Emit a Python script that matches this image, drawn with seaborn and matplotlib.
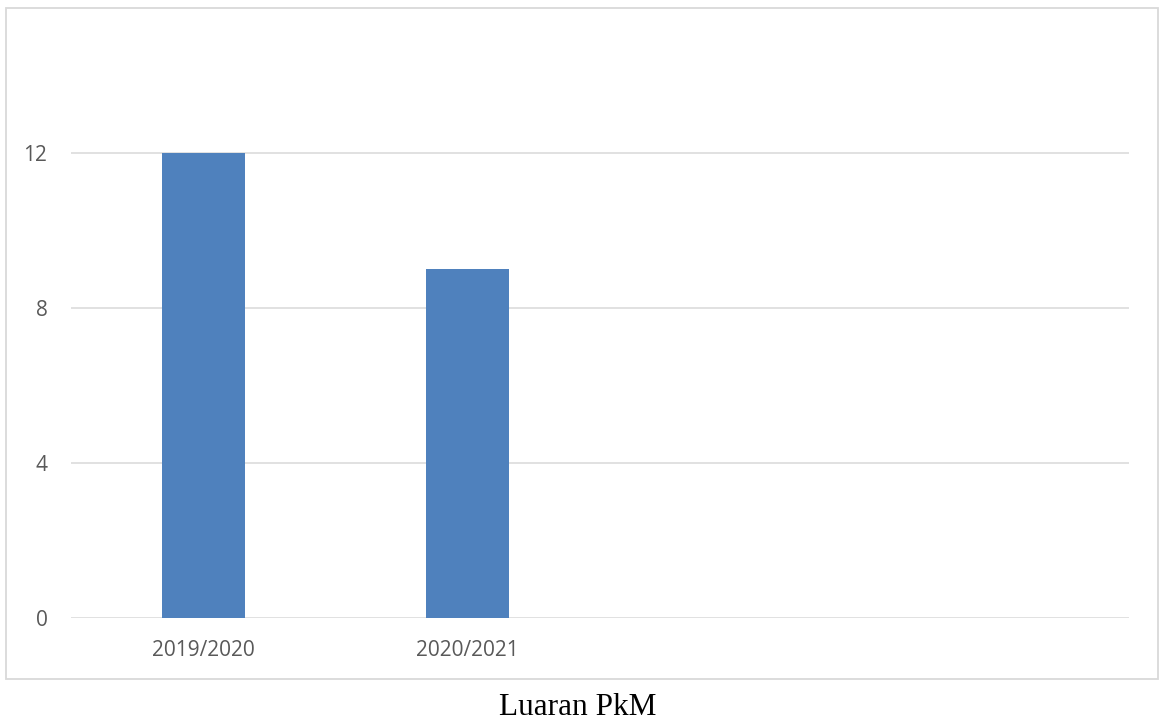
import matplotlib
matplotlib.use("Agg")
import matplotlib.pyplot as plt
import matplotlib.patches as mpatches
import seaborn as sns
import pandas as pd

categories = ["2019/2020", "2020/2021"]
values = [12, 9]
yticks = [0, 4, 8, 12]
title = "Luaran PkM"

sns.set_theme(style="white")
plt.rcParams["font.family"] = ["Open Sans", "DejaVu Sans"]

W, H = 1162, 720
fig = plt.figure(figsize=(W / 100, H / 100), dpi=100)
fig.patch.set_facecolor("white")

x0, x1 = 71, 1129
y0_px, y_top_px = 617.5, 76.0
ax = fig.add_axes([x0 / W, (H - y0_px) / H, (x1 - x0) / W, (y0_px - y_top_px) / H])

df = pd.DataFrame({"cat": categories, "val": values})
sns.barplot(data=df, x="cat", y="val", color="#4F81BD", saturation=1,
            width=0.314, linewidth=0, edgecolor="none", ax=ax, zorder=3)

ax.set_xlim(-0.5, 3.5)
ax.set_ylim(0, 14)
ax.set_yticks(yticks)
ax.set_yticklabels([str(v) for v in yticks])
ax.set_xlabel("")
ax.set_ylabel("")
for s in ax.spines.values():
    s.set_visible(False)
ax.grid(axis="y", color="#D9D9D9", linewidth=1.1, zorder=0)
ax.grid(axis="x", visible=False)
ax.set_axisbelow(True)
ax.tick_params(axis="both", length=0, labelsize=15, labelcolor="#595959")
ax.tick_params(axis="y", pad=17)
ax.tick_params(axis="x", pad=16)

# outer chart border
rect = mpatches.Rectangle((6 / W, (H - 679) / H), (1158 - 6) / W, (679 - 8) / H,
                          transform=fig.transFigure, fill=False,
                          edgecolor="#D9D9D9", linewidth=1.3)
fig.patches.append(rect)

fig.text(577.5 / W, (H - 715) / H, title, ha="center", va="baseline",
         fontsize=22.5, family=["Liberation Serif", "DejaVu Serif"], color="black")

fig.savefig("out.png", dpi=100, facecolor="white")
